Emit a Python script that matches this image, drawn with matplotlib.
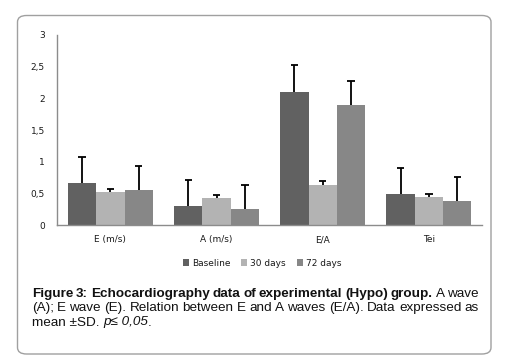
import matplotlib
matplotlib.use("Agg")
import matplotlib.pyplot as plt
import numpy as np
from matplotlib.patches import FancyBboxPatch

categories = ["E (m/s)", "A (m/s)", "E/A", "Tei"]
series_names = ["Baseline", "30 days", "72 days"]
baseline = [0.67, 0.30, 2.10, 0.49]
baseline_sd = [0.41, 0.41, 0.42, 0.41]
days30 = [0.52, 0.43, 0.635, 0.445]
days30_sd = [0.045, 0.04, 0.06, 0.045]
days72 = [0.555, 0.255, 1.89, 0.38]
days72_sd = [0.38, 0.375, 0.38, 0.38]
yticks = [0, 0.5, 1, 1.5, 2, 2.5, 3]
ytick_labels = ["0", "0,5", "1", "1,5", "2", "2,5", "3"]
colors = ["#616161", "#b3b3b3", "#878787"]

W, H = 507, 359
fig = plt.figure(figsize=(W / 100, H / 100), dpi=100)

border = FancyBboxPatch((17.5 / W, 5 / H), (491 - 17.5) / W, (351 - 7.5 - 5) / H,
                        boxstyle="round,pad=0,rounding_size=0.018",
                        transform=fig.transFigure, fill=False,
                        edgecolor="#a0a0a0", linewidth=1.0)
fig.patches.append(border)

ax = fig.add_axes([57.3 / W, 1 - 225.3 / H, (482 - 57.3) / W, (225.3 - 35) / H])
x = np.arange(len(categories))
bw = 0.8 / 3
data = [(baseline, baseline_sd), (days30, days30_sd), (days72, days72_sd)]
for i, ((vals, sds), name, c) in enumerate(zip(data, series_names, colors)):
    pos = x + (i - 1) * bw
    vals = np.array(vals); sds = np.array(sds)
    ax.bar(pos, vals, width=bw, color=c, label=name, zorder=2)
    ax.vlines(pos, vals, vals + sds, color="black", linewidth=1.3, zorder=3)
    ax.hlines(vals + sds, pos - 0.035, pos + 0.035, color="black", linewidth=1.3, zorder=3)

ax.set_xlim(-0.5, 3.5)
ax.set_ylim(0, 3)
ax.set_yticks(yticks)
ax.set_yticklabels(ytick_labels)
ax.set_xticks(x)
ax.set_xticklabels(categories)
for s in ["top", "right"]:
    ax.spines[s].set_visible(False)
for s in ["left", "bottom"]:
    ax.spines[s].set_color("#8c8c8c")
    ax.spines[s].set_linewidth(1.0)
ax.tick_params(axis="both", length=0, labelsize=6.5, colors="#1a1a1a")
ax.tick_params(axis="y", pad=9)
ax.tick_params(axis="x", pad=7)

fig.legend(loc="center", bbox_to_anchor=(262 / W, 1 - 263 / H), ncol=3,
           frameon=False, fontsize=6.5, handlelength=0.7, handleheight=0.7,
           handletextpad=0.3, columnspacing=1.2, labelcolor="#1a1a1a")

renderer = fig.canvas.get_renderer()
cap_x = 31.7
cap_r = 479
fs = 9.7
tc = "#111111"
FAM = "Liberation Sans"

def width_px(s, **kw):
    t = fig.text(0, 0, s, fontsize=fs, family=FAM, **kw)
    w = t.get_window_extent(renderer).width
    t.remove()
    return w

def justify(words, y, kws):
    widths = [width_px(w, **k) for w, k in zip(words, kws)]
    gap = (cap_r - cap_x - sum(widths)) / (len(words) - 1)
    xx = cap_x
    for w, k, wd in zip(words, kws, widths):
        fig.text(xx / W, 1 - y / H, w, fontsize=fs, family=FAM, va="center", color=tc, **k)
        xx += wd + gap

line1 = "Figure 3: Echocardiography data of experimental (Hypo) group. A wave".split(" ")
kws1 = [dict(fontweight="bold") if i < len(line1) - 2 else {} for i in range(len(line1))]
justify(line1, 294, kws1)
line2 = "(A); E wave (E). Relation between E and A waves (E/A). Data expressed as".split(" ")
justify(line2, 308, [{} for _ in line2])

runs = [("mean \u00b1SD. ", {}), ("p\u2264 0,05", dict(fontstyle="italic")), (".", {})]
xx = cap_x
for s, k in runs:
    fig.text(xx / W, 1 - 322.5 / H, s, fontsize=fs, family=FAM, va="center", color=tc, **k)
    xx += width_px(s, **k)

fig.savefig("out.png", dpi=100)
